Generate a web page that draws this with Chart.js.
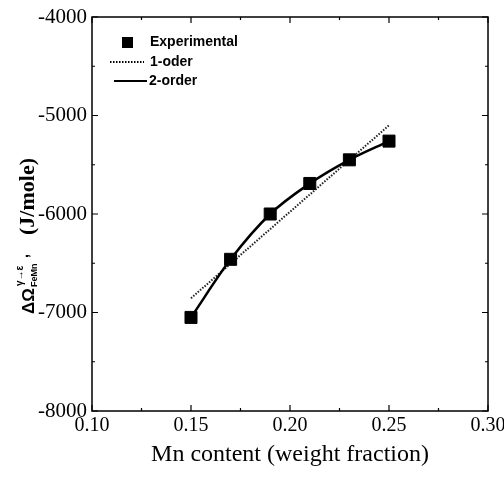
<!DOCTYPE html>
<html>
<head>
<meta charset="utf-8">
<script src="https://cdn.jsdelivr.net/npm/chart.js@4/dist/chart.umd.min.js"></script>
<style>
  html, body { margin: 0; padding: 0; background: #fff; }
  #wrap { width: 504px; height: 479px; }
</style>
</head>
<body>
<div id="wrap"><canvas id="feMnChart"></canvas></div>
<script>
// data
const mnContent = [0.15, 0.17, 0.19, 0.21, 0.23, 0.25];
const experimental = [-7050, -6460, -6000, -5690, -5450, -5260];
const firstOrderX = [0.15, 0.25];
const firstOrder = [-6855, -5100];
const xTicks = [0.10, 0.15, 0.20, 0.25, 0.30];
const yTicks = [-8000, -7000, -6000, -5000, -4000];

const toPoints = (xs, ys) => xs.map((x, i) => ({ x: x, y: ys[i] }));

Chart.defaults.font.family = '"Liberation Serif", serif';
Chart.defaults.color = '#000';

// box + inward ticks
const framePlugin = {
  id: 'frame',
  beforeDatasetsDraw(chart) {
    const { ctx, chartArea: a, scales } = chart;
    ctx.save();
    ctx.strokeStyle = '#000';
    ctx.lineWidth = 1.5;
    ctx.strokeRect(a.left, a.top, a.right - a.left, a.bottom - a.top);
    ctx.lineWidth = 1.2;
    ctx.beginPath();
    xTicks.forEach((v, i) => {
      const px = scales.x.getPixelForValue(v);
      ctx.moveTo(px, a.bottom); ctx.lineTo(px, a.bottom - 6);
      ctx.moveTo(px, a.top); ctx.lineTo(px, a.top + 6);
      if (i < xTicks.length - 1) {
        const mx = scales.x.getPixelForValue((v + xTicks[i + 1]) / 2);
        ctx.moveTo(mx, a.bottom); ctx.lineTo(mx, a.bottom - 3);
        ctx.moveTo(mx, a.top); ctx.lineTo(mx, a.top + 3);
      }
    });
    yTicks.forEach((v, i) => {
      const py = scales.y.getPixelForValue(v);
      ctx.moveTo(a.left, py); ctx.lineTo(a.left + 6, py);
      ctx.moveTo(a.right, py); ctx.lineTo(a.right - 6, py);
      if (i < yTicks.length - 1) {
        const my = scales.y.getPixelForValue((v + yTicks[i + 1]) / 2);
        ctx.moveTo(a.left, my); ctx.lineTo(a.left + 3, my);
        ctx.moveTo(a.right, my); ctx.lineTo(a.right - 3, my);
      }
    });
    ctx.stroke();
    ctx.restore();
  }
};

// legend inside the plot, top-left
const legendPlugin = {
  id: 'innerLegend',
  afterDraw(chart) {
    const ctx = chart.ctx;
    const a = chart.chartArea;
    const x0 = a.left;
    const y0 = a.top;
    ctx.save();
    ctx.fillStyle = '#000';
    ctx.strokeStyle = '#000';
    ctx.font = 'bold 14px "Liberation Sans", sans-serif';
    ctx.textBaseline = 'middle';
    ctx.textAlign = 'left';
    ctx.fillRect(x0 + 30, y0 + 20, 11, 11);
    ctx.fillText('Experimental', x0 + 58, y0 + 25);
    ctx.lineWidth = 2;
    ctx.setLineDash([1.5, 1.5]);
    ctx.beginPath();
    ctx.moveTo(x0 + 18, y0 + 45); ctx.lineTo(x0 + 52, y0 + 45);
    ctx.stroke();
    ctx.fillText('1-oder', x0 + 58, y0 + 45);
    ctx.setLineDash([]);
    ctx.lineWidth = 2.2;
    ctx.beginPath();
    ctx.moveTo(x0 + 22, y0 + 64); ctx.lineTo(x0 + 55, y0 + 64);
    ctx.stroke();
    ctx.fillText('2-order', x0 + 57, y0 + 64);
    ctx.restore();
  }
};

// rotated y title with sub/superscripts
const yTitlePlugin = {
  id: 'yTitle',
  afterDraw(chart) {
    const ctx = chart.ctx;
    ctx.save();
    ctx.translate(34, 314);
    ctx.rotate(-Math.PI / 2);
    ctx.fillStyle = '#000';
    ctx.textAlign = 'left';
    ctx.textBaseline = 'alphabetic';
    ctx.font = 'bold 17px "Liberation Sans", sans-serif';
    ctx.fillText('ΔΩ', 0, 0);
    ctx.font = 'bold 10px "Liberation Sans", sans-serif';
    ctx.fillText('γ→ε', 28, -11);
    ctx.font = 'bold 9px "Liberation Sans", sans-serif';
    ctx.fillText('FeMn', 27, 3);
    ctx.font = 'bold 14px "Liberation Sans", sans-serif';
    ctx.fillText(',', 56, -6);
    ctx.font = 'bold 22px "Liberation Serif", serif';
    ctx.fillText('(J/mole)', 79, 0);
    ctx.restore();
  }
};

const config = {
  type: 'scatter',
  data: {
    datasets: [
      {
        label: 'Experimental',
        data: toPoints(mnContent, experimental),
        showLine: false,
        pointStyle: 'rect',
        pointRadius: 8.5,
        pointHoverRadius: 8.5,
        backgroundColor: '#000',
        borderColor: '#000',
        order: 0
      },
      {
        label: '1-oder',
        data: toPoints(firstOrderX, firstOrder),
        showLine: true,
        borderColor: '#222',
        borderWidth: 2,
        borderDash: [1.5, 1.5],
        pointRadius: 0,
        order: 2
      },
      {
        label: '2-order',
        data: toPoints(mnContent, experimental),
        showLine: true,
        borderColor: '#000',
        borderWidth: 2.5,
        tension: 0.4,
        cubicInterpolationMode: 'monotone',
        pointRadius: 0,
        order: 1
      }
    ]
  },
  options: {
    responsive: true,
    maintainAspectRatio: false,
    animation: false,
    layout: { padding: { top: 17, right: 16, left: 0, bottom: 0 } },
    plugins: {
      legend: { display: false },
      tooltip: { enabled: false }
    },
    scales: {
      x: {
        type: 'linear',
        min: 0.1,
        max: 0.3,
        afterBuildTicks: (scale) => { scale.ticks = xTicks.map(v => ({ value: v })); },
        afterFit: (scale) => { scale.height = 68; scale.paddingLeft = 0; scale.paddingRight = 0; },
        grid: { display: false, drawTicks: false },
        border: { display: false },
        ticks: {
          padding: 3,
          autoSkip: false,
          maxRotation: 0,
          font: { size: 20 },
          callback: (v) => Number(v).toFixed(2)
        },
        title: {
          display: true,
          text: 'Mn content (weight fraction)',
          font: { size: 24 },
          padding: { top: 0, bottom: 10 }
        }
      },
      y: {
        type: 'linear',
        min: -8000,
        max: -4000,
        afterBuildTicks: (scale) => { scale.ticks = yTicks.map(v => ({ value: v })); },
        afterFit: (scale) => { scale.width = 92; scale.paddingTop = 0; scale.paddingBottom = 0; },
        grid: { display: false, drawTicks: false },
        border: { display: false },
        ticks: {
          padding: 5,
          autoSkip: false,
          font: { size: 21 },
          callback: (v) => String(v)
        }
      }
    }
  },
  plugins: [framePlugin, legendPlugin, yTitlePlugin]
};

const feMnChart = new Chart(document.getElementById('feMnChart').getContext('2d'), config);
</script>
</body>
</html>
